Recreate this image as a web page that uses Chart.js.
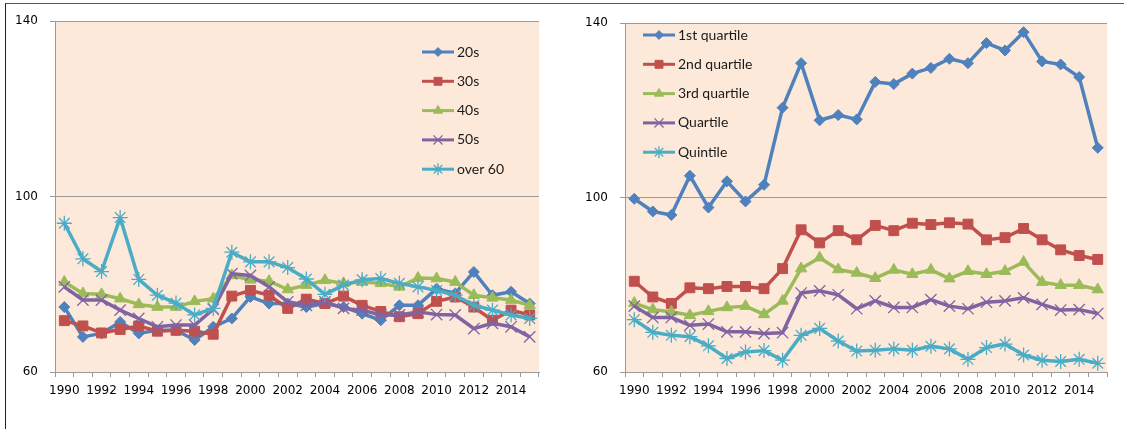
<!DOCTYPE html>
<html lang="en">
<head>
<meta charset="utf-8" />
<title>Index by age group and income quartile</title>
<script src="https://cdn.jsdelivr.net/npm/chart.js"></script>
<style>
    body { margin: 0; background: #fff; }
    #frame { position: absolute; left: 5px; top: 3px; width: 1130px; height: 440px; border-top: 1px solid #555; border-left: 1px solid #222; }
    #ageChart { position: absolute; left: 0; top: 0; }
    #incomeChart { position: absolute; left: 560px; top: 0; }
</style>
</head>
<body>
<div id="frame"></div>
<canvas id="ageChart" width="552" height="429"></canvas>
<canvas id="incomeChart" width="564" height="429"></canvas>
<script>
// years on the x axis
const years = ['1990', '1991', '1992', '1993', '1994', '1995', '1996', '1997', '1998', '1999',
    '2000', '2001', '2002', '2003', '2004', '2005', '2006', '2007', '2008', '2009',
    '2010', '2011', '2012', '2013', '2014', '2015'];
const yTicks = [60, 100, 140];

// left chart: by age group
const ageLabels = ['20s', '30s', '40s', '50s', 'over 60'];
const age20s = [74.8, 68.0, 68.8, 71.4, 68.8, 69.5, 69.5, 67.3, 70.3, 72.2, 77.1, 75.6, 75.6, 74.8, 75.6, 74.8, 73.3, 71.8, 75.2, 75.2, 79.0, 77.9, 82.8, 77.5, 78.3, 75.6];
const age30s = [71.7, 70.5, 68.9, 69.7, 70.5, 69.3, 69.5, 69.3, 68.6, 77.3, 78.6, 77.5, 74.5, 76.6, 75.6, 77.3, 75.2, 73.8, 72.6, 73.3, 76.1, 77.1, 74.8, 71.8, 74.1, 73.0];
const age40s = [80.5, 77.9, 77.7, 76.7, 75.4, 74.8, 74.8, 76.1, 76.7, 82.0, 81.0, 80.7, 78.8, 79.8, 80.9, 80.2, 80.5, 80.2, 79.4, 81.4, 81.3, 80.5, 77.5, 76.9, 76.4, 75.2];
const age50s = [79.4, 76.4, 76.4, 74.1, 72.2, 70.3, 70.7, 70.7, 74.3, 82.4, 82.0, 79.4, 76.0, 75.2, 76.0, 74.5, 74.1, 73.0, 73.0, 73.7, 73.1, 73.0, 69.9, 71.1, 70.3, 68.0];
const ageOver60 = [93.9, 85.8, 82.9, 95.2, 81.1, 77.5, 75.7, 73.0, 74.5, 87.3, 85.1, 85.1, 83.8, 81.2, 77.7, 79.8, 81.0, 81.3, 80.2, 79.4, 78.6, 77.5, 75.2, 74.1, 73.0, 72.2];

// right chart: by income group
const incomeLabels = ['1st quartile', '2nd quartile', '3rd quartile', 'Quartile', 'Quintile'];
const inc1st = [99.7, 96.8, 96.0, 105.0, 97.7, 103.7, 99.1, 102.9, 120.6, 130.8, 117.7, 118.9, 117.9, 126.5, 126.0, 128.4, 129.7, 131.8, 130.8, 135.4, 133.7, 137.9, 131.2, 130.5, 127.6, 111.4];
const inc2nd = [80.8, 77.2, 75.7, 79.3, 79.1, 79.6, 79.6, 79.1, 83.7, 92.6, 89.6, 92.4, 90.3, 93.6, 92.4, 94.1, 93.8, 94.2, 93.9, 90.3, 90.8, 92.9, 90.3, 88.0, 86.7, 85.8];
const inc3rd = [75.8, 74.3, 73.8, 73.0, 73.9, 74.8, 75.1, 73.2, 76.3, 83.7, 86.2, 83.5, 82.7, 81.5, 83.4, 82.4, 83.4, 81.4, 83.1, 82.4, 83.1, 85.2, 80.6, 79.9, 79.9, 78.9];
const incQuartile = [75.1, 72.5, 72.5, 70.7, 71.0, 69.2, 69.2, 68.8, 69.0, 78.1, 78.6, 77.7, 74.5, 76.3, 74.8, 74.8, 76.6, 75.1, 74.5, 76.0, 76.3, 77.0, 75.5, 74.2, 74.3, 73.4];
const incQuintile = [72.0, 69.1, 68.4, 68.1, 66.0, 63.1, 64.6, 64.9, 62.7, 68.4, 70.0, 67.1, 64.8, 65.0, 65.3, 65.0, 65.9, 65.3, 62.9, 65.6, 66.4, 63.9, 62.7, 62.4, 62.9, 62.0];

const colors = ['#4F81BD', '#C0504D', '#9BBB59', '#8064A2', '#4BACC6'];
const markers = [
    { style: 'rectRot', radius: 5.5, width: 1 },
    { style: 'rect', radius: 7, width: 1 },
    { style: 'triangle', radius: 6.5, width: 1 },
    { style: 'crossRot', radius: 8, width: 1.3 },
    { style: 'star', radius: 7.5, width: 1.3 }
];

function makeSeries(labels, series) {
    return series.map((data, i) => ({
        label: labels[i],
        data: data,
        borderColor: colors[i],
        backgroundColor: colors[i],
        borderWidth: 3.5,
        borderJoinStyle: 'round',
        pointStyle: markers[i].style,
        pointRadius: markers[i].radius,
        pointBackgroundColor: colors[i],
        pointBorderColor: colors[i],
        pointBorderWidth: markers[i].width,
        tension: 0,
        order: series.length - i
    }));
}

const peachBackground = {
    id: 'peachBackground',
    beforeDraw(chart) {
        const { ctx, chartArea: a } = chart;
        ctx.save();
        ctx.fillStyle = '#FDE9D9';
        ctx.fillRect(a.left, a.top, a.right - a.left, a.bottom - a.top);
        ctx.restore();
    }
};

// vertical legend drawn inside the plot, Excel style
const sideLegend = {
    id: 'sideLegend',
    afterDraw(chart, args, opts) {
        const ctx = chart.ctx;
        chart.data.datasets.forEach((ds, i) => {
            const y = opts.top + i * opts.gap;
            ctx.save();
            ctx.strokeStyle = ds.borderColor;
            ctx.lineWidth = 3;
            ctx.beginPath();
            ctx.moveTo(opts.left, y);
            ctx.lineTo(opts.left + 32, y);
            ctx.stroke();
            ctx.fillStyle = ds.pointBackgroundColor;
            ctx.strokeStyle = ds.pointBorderColor;
            ctx.lineWidth = ds.pointBorderWidth;
            Chart.helpers.drawPoint(ctx, {
                pointStyle: ds.pointStyle,
                radius: ds.pointRadius * 0.8,
                rotation: 0,
                borderWidth: ds.pointBorderWidth
            }, opts.left + 16, y);
            ctx.fillStyle = '#1a1a1a';
            ctx.font = '14px Lato';
            ctx.textBaseline = 'middle';
            ctx.fillText(ds.label, opts.left + 35, y);
            ctx.restore();
        });
    }
};

function makeChart(id, labels, series, layout, legendPos) {
    new Chart(document.getElementById(id), {
        type: 'line',
        data: {
            labels: years,
            datasets: makeSeries(labels, series)
        },
        options: {
            responsive: false,
            animation: false,
            layout: { padding: { top: layout.top, right: layout.right, left: 0, bottom: 0 } },
            plugins: {
                legend: { display: false },
                tooltip: { enabled: false },
                sideLegend: legendPos
            },
            scales: {
                x: {
                    offset: true,
                    grid: { offset: true, drawOnChartArea: false, tickLength: 5, color: '#9a9a9a' },
                    border: { color: '#9a9a9a' },
                    ticks: {
                        autoSkip: false,
                        maxRotation: 0,
                        padding: 7,
                        color: '#000',
                        font: { family: 'DejaVu Sans', size: 12 },
                        callback: (v, i) => (i % 2 === 0 ? years[i] : '')
                    },
                    afterFit: s => { s.height = 57; }
                },
                y: {
                    min: yTicks[0],
                    max: yTicks[yTicks.length - 1],
                    afterBuildTicks: s => { s.ticks = yTicks.map(v => ({ value: v })); },
                    grid: { color: '#9a9a9a', tickLength: 5 },
                    border: { color: '#9a9a9a' },
                    ticks: {
                        padding: 12,
                        color: '#000',
                        font: { family: 'DejaVu Sans', size: 12 }
                    },
                    afterFit: s => { s.width = layout.axis; }
                }
            }
        },
        plugins: [peachBackground, sideLegend]
    });
}

makeChart('ageChart', ageLabels, [age20s, age30s, age40s, age50s, ageOver60],
    { top: 21, right: 13, axis: 55 }, { left: 422, top: 52, gap: 29.3 });
makeChart('incomeChart', incomeLabels, [inc1st, inc2nd, inc3rd, incQuartile, incQuintile],
    { top: 23, right: 17, axis: 65 }, { left: 83, top: 35, gap: 29.3 });
</script>
</body>
</html>
